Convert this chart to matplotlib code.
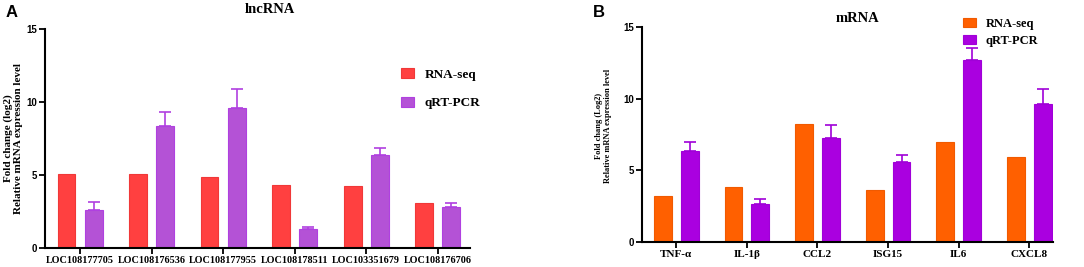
import numpy as np
import matplotlib.pyplot as plt

# panel A - lncRNA
lnc_genes = ['LOC108177705', 'LOC108176536', 'LOC108177955',
             'LOC108178511', 'LOC103351679', 'LOC108176706']
lnc_seq = [5.07, 5.07, 4.86, 4.29, 4.22, 3.08]
lnc_qpcr = [2.58, 8.33, 9.59, 1.30, 6.37, 2.83]
lnc_err = [0.57, 0.96, 1.28, 0.14, 0.46, 0.25]

# panel B - mRNA
m_genes = ['TNF-α', 'IL-1β', 'CCL2', 'ISG15', 'IL6', 'CXCL8']
m_seq = [3.19, 3.81, 8.23, 3.65, 7.00, 5.91]
m_qpcr = [6.37, 2.63, 7.28, 5.60, 12.67, 9.63]
m_err = [0.58, 0.39, 0.86, 0.45, 0.86, 1.02]

serif = 'Liberation Serif'
sans = 'Liberation Sans'

fig = plt.figure(figsize=(10.84, 2.67), dpi=100)


def panel(ax, genes, seq, qpcr, err, c1, e1, c2, e2, xsize, xlim):
    x = np.arange(len(genes))
    w = 0.25
    off = 0.19
    ax.bar(x - off, seq, w, color=c1, edgecolor=e1, linewidth=0.8, label='RNA-seq')
    ax.bar(x + off, qpcr, w, color=c2, edgecolor=e2, linewidth=0.8, label='qRT-PCR')
    ax.errorbar(x + off, qpcr, yerr=[np.zeros(len(err)), err], fmt='none',
                ecolor=e2, elinewidth=1.2, capsize=4, capthick=1.2)
    ax.set_ylim(0, 15)
    ax.set_xlim(*xlim)
    ax.set_yticks([0, 5, 10, 15])
    ax.set_xticks(x)
    ax.set_xticklabels(genes, fontfamily=serif, fontweight='bold', fontsize=xsize)
    for t in ax.get_yticklabels():
        t.set_fontfamily(sans)
        t.set_fontweight('bold')
        t.set_fontsize(7)
    ax.spines['top'].set_visible(False)
    ax.spines['right'].set_visible(False)
    ax.spines['left'].set_linewidth(1.5)
    ax.spines['bottom'].set_linewidth(1.5)
    ax.tick_params(axis='both', width=1.3, length=4, pad=1.5)


axA = fig.add_axes([0.0415, 0.071, 0.392, 0.820])
panel(axA, lnc_genes, lnc_seq, lnc_qpcr, lnc_err,
      '#FF4040', '#F03838', '#B452D6', '#B040E0', 7.3, (-0.49, 5.45))
axA.legend(loc='upper left', bbox_to_anchor=(0.81, 0.875), frameon=False,
           prop={'family': serif, 'weight': 'bold', 'size': 9.5},
           handlelength=1.0, handleheight=0.8, labelspacing=1.2, handletextpad=0.8)
fig.text(0.0125, 0.483, 'Fold change (log2)\nRelative mRNA expression level',
         rotation=90, ha='center', va='center', fontfamily=serif,
         fontweight='bold', fontsize=8, linespacing=1.15)
fig.text(0.249, 0.965, 'lncRNA', ha='center', va='center',
         fontfamily=serif, fontweight='bold', fontsize=10.5)
fig.text(0.005, 0.955, 'A', ha='left', va='center',
         fontfamily=sans, fontweight='bold', fontsize=12)

axB = fig.add_axes([0.592, 0.094, 0.379, 0.805])
panel(axB, m_genes, m_seq, m_qpcr, m_err,
      '#FF6000', '#F05A00', '#AA00E0', '#A000D8', 8, (-0.49, 5.33))
axB.legend(loc='upper left', bbox_to_anchor=(0.755, 1.095), frameon=False,
           prop={'family': serif, 'weight': 'bold', 'size': 9},
           handlelength=1.0, handleheight=0.8, labelspacing=0.4, handletextpad=0.8)
fig.text(0.557, 0.53, 'Fold chang (Log2)\nRelative mRNA expression level',
         rotation=90, ha='center', va='center', fontfamily=serif,
         fontweight='bold', fontsize=6, linespacing=1.15)
fig.text(0.791, 0.93, 'mRNA', ha='center', va='center',
         fontfamily=serif, fontweight='bold', fontsize=10.5)
fig.text(0.547, 0.955, 'B', ha='left', va='center',
         fontfamily=sans, fontweight='bold', fontsize=12)

fig.savefig('out.png', dpi=100)
